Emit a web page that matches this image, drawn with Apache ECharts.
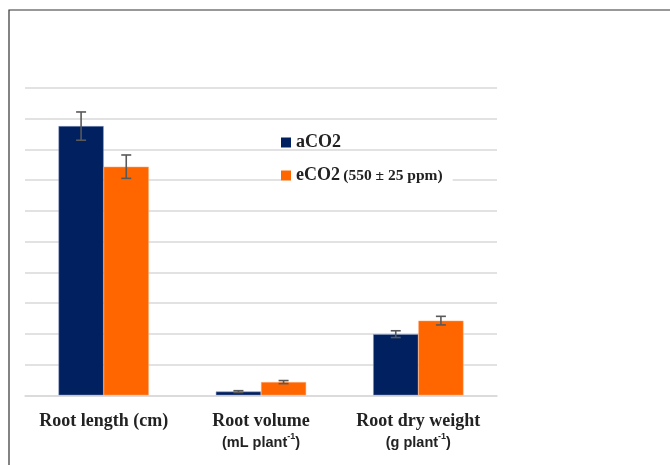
<!DOCTYPE html>
<html><head><meta charset="utf-8">
<script src="https://cdn.jsdelivr.net/npm/echarts@6/dist/echarts.min.js"></script>
<style>html,body{margin:0;padding:0;background:#fff}#c{width:670px;height:465px}</style>
</head><body><div id="c"></div>
<script>
const categories = ['Root length (cm)', 'Root volume', 'Root dry weight'];
const unitLines = ['', '(mL plant', '(g plant'];
const seriesNames = ['aCO2', 'eCO2'];
const aCO2 = [8.76, 0.12, 1.99];
const eCO2 = [7.44, 0.43, 2.43];
const aCO2Err = [0.46, 0.03, 0.11];
const eCO2Err = [0.38, 0.05, 0.14];

const BAR_FRAC = 0.287;
function errRender(sign) {
  return function (params, api) {
    const x = api.value(0), v = api.value(1), e = api.value(2);
    const band = api.size([1, 0])[0];
    const off = sign * band * BAR_FRAC / 2;
    const hi = api.coord([x, v + e]), lo = api.coord([x, v - e]);
    const cx = hi[0] + off, cap = 5;
    const st = {stroke: '#595959', lineWidth: 1.6};
    return {type: 'group', children: [
      {type: 'line', shape: {x1: cx, y1: hi[1], x2: cx, y2: lo[1]}, style: st},
      {type: 'line', shape: {x1: cx - cap, y1: hi[1], x2: cx + cap, y2: hi[1]}, style: st},
      {type: 'line', shape: {x1: cx - cap, y1: lo[1], x2: cx + cap, y2: lo[1]}, style: st}
    ]};
  };
}

const chart = echarts.init(document.getElementById('c'), null, {renderer: 'canvas'});
chart.setOption({
  animation: false,
  backgroundColor: '#fff',
  graphic: [{type: 'rect', shape: {x: 9, y: 10, width: 700, height: 500},
    style: {fill: 'none', stroke: '#333', lineWidth: 1.2}, z: 10, silent: true}],
  grid: {left: 25, right: 173, top: 88, bottom: 69.7},
  legend: [
    {data: [seriesNames[0]], left: 281, top: 133.5, orient: 'vertical', itemWidth: 10, itemHeight: 10, itemGap: 0,
      padding: 0, icon: 'rect', itemStyle: {borderWidth: 0},
      textStyle: {fontFamily: 'Liberation Serif', fontWeight: 'bold', fontSize: 18, color: '#222'}},
    {data: [seriesNames[1]], left: 281, top: 161.5, orient: 'vertical', itemWidth: 10, itemHeight: 10,
      icon: 'rect', backgroundColor: '#fff', padding: [5, 10, 5, 0], itemStyle: {borderWidth: 0},
      formatter: function (n) { return '{b|' + n + '} {s|(550 ± 25 ppm)}'; },
      textStyle: {color: '#222', rich: {
        b: {fontFamily: 'Liberation Serif', fontWeight: 'bold', fontSize: 18, color: '#222'},
        s: {fontFamily: 'Liberation Serif', fontWeight: 'bold', fontSize: 15.5, color: '#222'}}}}
  ],
  xAxis: {type: 'category', data: categories,
    axisLine: {lineStyle: {color: '#d9d9d9', width: 1.5}}, axisTick: {show: false},
    axisLabel: {margin: 16, interval: 0,
      formatter: function (v, i) {
        let s = '{m|' + v + '}';
        if (unitLines[i]) s += '\n{s|' + unitLines[i] + '}{sup|-1}{s|)}';
        return s;
      },
      rich: {
        m: {fontFamily: 'Liberation Serif', fontWeight: 'bold', fontSize: 18, color: '#222', lineHeight: 21},
        s: {fontFamily: 'Liberation Sans', fontWeight: 'bold', fontSize: 14.5, color: '#222', lineHeight: 21},
        sup: {fontFamily: 'Liberation Sans', fontWeight: 'bold', fontSize: 9, color: '#222', verticalAlign: 'top', lineHeight: 21}
      }}},
  yAxis: {type: 'value', min: 0, max: 10, interval: 1,
    axisLabel: {show: false}, axisLine: {show: false}, axisTick: {show: false},
    splitLine: {lineStyle: {color: '#d9d9d9', width: 1.5}}},
  series: [
    {name: 'aCO2', type: 'bar', data: aCO2, barWidth: (BAR_FRAC * 100) + '%', barGap: '0%',
      itemStyle: {color: '#002060', borderColor: '#8a9bc0', borderWidth: 0.5}},
    {name: 'eCO2', type: 'bar', data: eCO2, barWidth: (BAR_FRAC * 100) + '%', barGap: '0%',
      itemStyle: {color: '#FF6600', borderColor: '#ffb080', borderWidth: 0.5}},
    {type: 'custom', renderItem: errRender(-1), z: 5,
      data: aCO2.map((v, i) => [i, v, aCO2Err[i]])},
    {type: 'custom', renderItem: errRender(1), z: 5,
      data: eCO2.map((v, i) => [i, v, eCO2Err[i]])}
  ]
});
</script></body></html>
